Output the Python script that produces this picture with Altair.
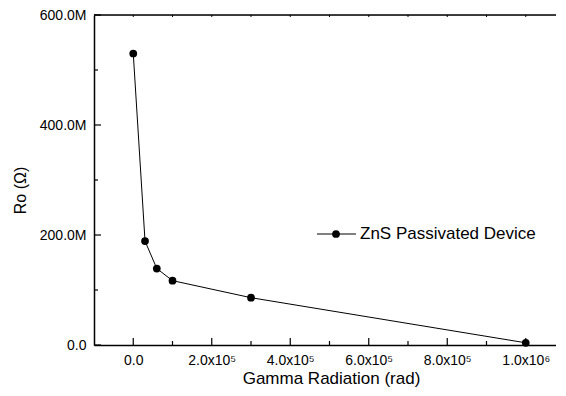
import altair as alt
import pandas as pd

# Data
dose = [0, 30000, 60000, 100000, 300000, 1000000]
ro = [530e6, 189e6, 139e6, 117e6, 86e6, 4e6]
series_name = "ZnS Passivated Device"

x_major = [0, 200000, 400000, 600000, 800000, 1000000]
x_major_labels = ["0.0", "2.0x10\u2075", "4.0x10\u2075", "6.0x10\u2075", "8.0x10\u2075", "1.0x10\u2076"]
x_minor = [100000, 300000, 500000, 700000, 900000]
y_major = [0, 200e6, 400e6, 600e6]
y_major_labels = ["0.0", "200.0M", "400.0M", "600.0M"]
y_minor = [100e6, 300e6, 500e6]

W, H = 471, 330
FONT = "Liberation Sans"


def make_expr(vals, labels):
    expr = "''"
    for v, l in reversed(list(zip(vals, labels))):
        expr = f"abs(datum.value - {v}) < 1 ? '{l}' : ({expr})"
    return expr


df = pd.DataFrame({"dose": dose, "ro": ro})
xs = alt.Scale(domain=[-100000, 1100000], nice=False, zero=False)
ys = alt.Scale(domain=[0, 600e6], nice=False)

base = alt.Chart(df)

line = base.mark_line(color="black", strokeWidth=1).encode(
    x=alt.X("dose:Q", scale=xs, axis=alt.Axis(
        values=x_major, labelExpr=make_expr(x_major, x_major_labels),
        tickSize=0, labelPadding=8, grid=False, domainColor="black", domainWidth=1.5,
        labelFont=FONT, labelFontSize=14, labelColor="black",
        title="Gamma Radiation (rad)", titleFont=FONT, titleFontSize=17,
        titleFontWeight="normal", titleColor="black",
        titleX=237, titleY=33, titleBaseline="middle", titleAnchor="middle")),
    y=alt.Y("ro:Q", scale=ys, axis=alt.Axis(
        values=y_major, labelExpr=make_expr(y_major, y_major_labels),
        tickSize=0, labelPadding=8, grid=False, domainColor="black", domainWidth=1.5,
        labelFont=FONT, labelFontSize=14, labelColor="black",
        title="Ro (\u03a9)", titleFont=FONT, titleFontSize=16,
        titleFontWeight="normal", titleColor="black",
        titleX=-74, titleY=175, titleBaseline="middle", titleAngle=-90)),
)

points = base.mark_point(filled=True, color="black", size=60, opacity=1).encode(
    x=alt.X("dose:Q", scale=xs), y=alt.Y("ro:Q", scale=ys)
)

# top frame line
top_line = alt.Chart(alt.Data(values=[{}])).mark_rule(color="black", strokeWidth=1.5).encode(
    x=alt.value(0), x2=alt.value(W), y=alt.value(0)
)

# inward ticks
xmaj = alt.Chart(pd.DataFrame({"v": x_major})).mark_rule(color="black", strokeWidth=1.2).encode(
    x=alt.X("v:Q", scale=xs), y=alt.value(H), y2=alt.value(H - 7)
)
xmin = alt.Chart(pd.DataFrame({"v": x_minor})).mark_rule(color="black", strokeWidth=1.2).encode(
    x=alt.X("v:Q", scale=xs), y=alt.value(H), y2=alt.value(H - 4)
)
xtop = alt.Chart(pd.DataFrame({"v": x_major + x_minor})).mark_rule(color="black", strokeWidth=1).encode(
    x=alt.X("v:Q", scale=xs), y=alt.value(0), y2=alt.value(2)
)
ymaj = alt.Chart(pd.DataFrame({"v": y_major})).mark_rule(color="black", strokeWidth=1.2).encode(
    y=alt.Y("v:Q", scale=ys), x=alt.value(0), x2=alt.value(7)
)
ymin = alt.Chart(pd.DataFrame({"v": y_minor})).mark_rule(color="black", strokeWidth=1.2).encode(
    y=alt.Y("v:Q", scale=ys), x=alt.value(0), x2=alt.value(4)
)

# legend
leg = alt.Chart(alt.Data(values=[{"label": series_name}]))
leg_line = leg.mark_rule(color="black", strokeWidth=1).encode(
    x=alt.value(223), x2=alt.value(262), y=alt.value(219)
)
leg_pt = leg.mark_point(filled=True, color="black", size=60, opacity=1).encode(
    x=alt.value(242), y=alt.value(219)
)
leg_txt = leg.mark_text(align="left", baseline="middle", font=FONT, fontSize=17, color="black").encode(
    x=alt.value(266), y=alt.value(219), text="label:N"
)

chart = alt.layer(
    line, points, top_line, xmaj, xmin, xtop, ymaj, ymin, leg_line, leg_pt, leg_txt
).properties(
    width=W, height=H,
    padding={"left": 86, "top": 7, "right": -9, "bottom": 43},
    autosize=alt.AutoSizeParams(type="none"),
).configure_view(stroke=None).configure(background="white")

chart.save("out.html", embed_options={"renderer": "svg", "actions": False})
